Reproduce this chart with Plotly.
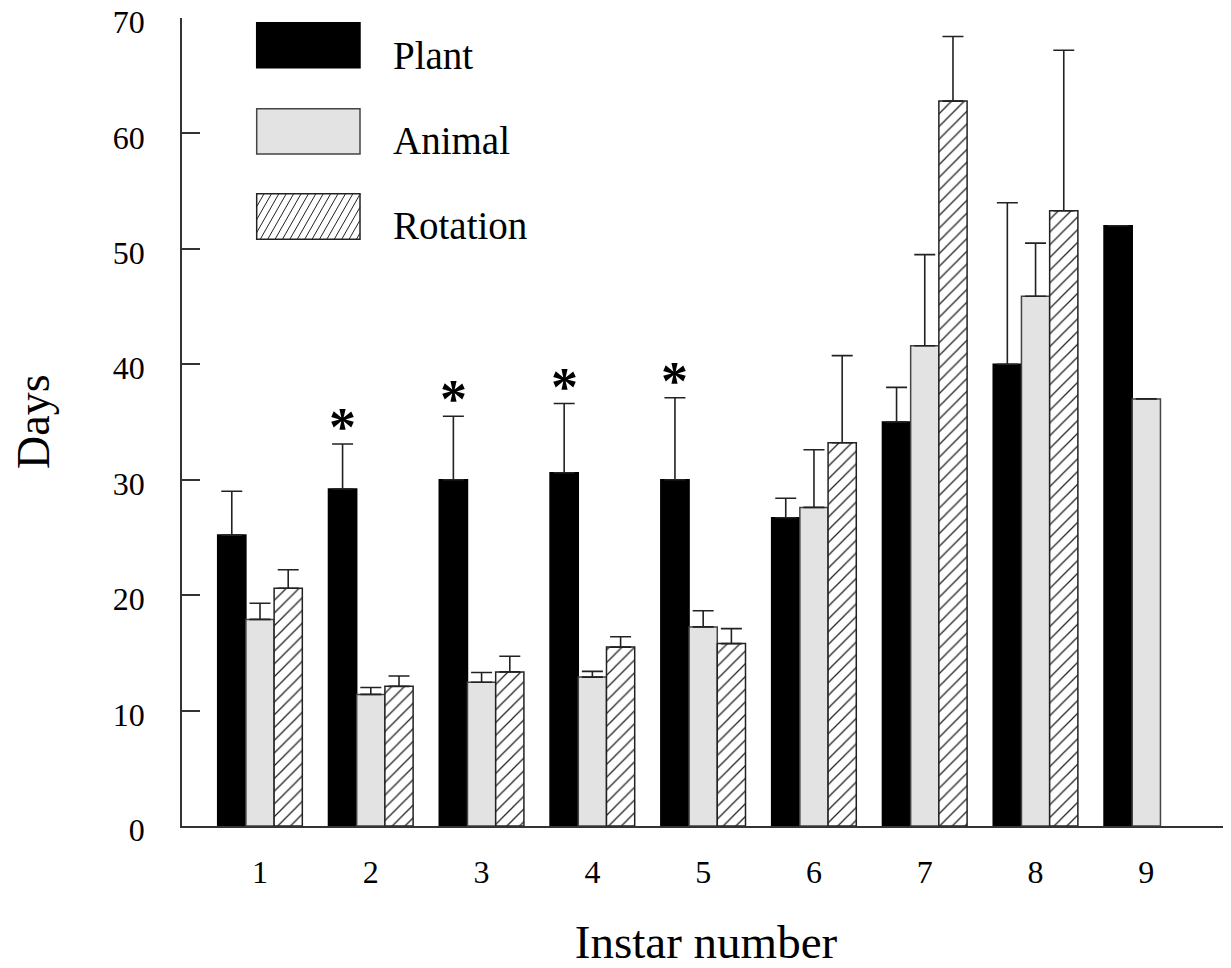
import plotly.graph_objects as go

# ---------------- data ----------------
instars = [1, 2, 3, 4, 5, 6, 7, 8, 9]
tick_labels = ["1", "2", "3", "4", "5", "6", "7", "8", "9"]

plant = [25.2, 29.2, 30.0, 30.6, 30.0, 26.7, 35.0, 40.0, 52.0]
plant_err = [3.8, 3.9, 5.5, 6.0, 7.1, 1.7, 3.0, 14.0, 0]

animal = [17.9, 11.4, 12.45, 12.9, 17.25, 27.6, 41.6, 45.9, 37.0]
animal_err = [1.4, 0.6, 0.85, 0.5, 1.4, 5.0, 7.9, 4.6, 0]

rotation = [20.6, 12.1, 13.35, 15.5, 15.8, 33.2, 62.8, 53.3, None]
rotation_err = [1.6, 0.9, 1.35, 0.9, 1.3, 7.55, 5.6, 13.9, None]

significant = [2, 3, 4, 5]  # instars marked with *

series_names = ["Plant", "Animal", "Rotation"]
x_title = "Instar number"
y_title = "Days"

# ---------------- layout constants ----------------
OFF = 8  # page body margin
W, H = 1223, 960
ML, MR, MT, MB = 174, 1, 10, 142
PW, PH = W - ML - MR, H - MT - MB
FONT = "Liberation Serif, Times New Roman, serif"
BARGAP = 0.236
ERR_STYLE = dict(type="data", symmetric=False, color="#222222", thickness=1.6, width=10.5)

fig = go.Figure()

fig.add_trace(go.Bar(
    x=instars, y=plant, name=series_names[0],
    marker=dict(color="black", line=dict(color="black", width=1.5)),
    error_y=dict(array=plant_err, arrayminus=[0] * len(plant), **ERR_STYLE),
))
fig.add_trace(go.Bar(
    x=instars, y=animal, name=series_names[1],
    marker=dict(color="#e3e3e3", line=dict(color="#444444", width=1.5)),
    error_y=dict(array=animal_err, arrayminus=[0] * len(animal), **ERR_STYLE),
))
fig.add_trace(go.Bar(
    x=instars, y=rotation, name=series_names[2],
    marker=dict(color="white", line=dict(color="#222222", width=1.5),
                pattern=dict(shape="/", fgcolor="#222222", bgcolor="white",
                             size=9, solidity=0.14, fillmode="replace")),
    error_y=dict(array=rotation_err, arrayminus=[0] * len(rotation), **ERR_STYLE),
))

# significance stars over Plant bars
bar_w = (1 - BARGAP) / 3
for inst in significant:
    i = instars.index(inst)
    fig.add_annotation(
        x=inst - bar_w, y=plant[i] + plant_err[i], xref="x", yref="y",
        text="<b>*</b>", showarrow=False, yanchor="middle", yshift=17,
        font=dict(family=FONT, size=54, color="black"),
    )

# custom legend (boxes + labels), positions given in page pixels
def px_x(px):
    return (px - OFF - ML) / PW

def px_y(py):
    return (MT + PH - (py - OFF)) / PH

legend_boxes = [
    (22.7, 67.7, dict(fillcolor="black", line=dict(color="black", width=1.5))),
    (108.7, 154.0, dict(fillcolor="#e3e3e3", line=dict(color="#444444", width=1.5))),
    (193.7, 239.3, dict(fillcolor="white", line=dict(color="#222222", width=1.5))),
]
label_y = [55, 140, 225]
for (top, bot, style), name, ly in zip(legend_boxes, series_names, label_y):
    fig.add_shape(type="rect", xref="paper", yref="paper",
                  x0=px_x(256.7), x1=px_x(360), y0=px_y(bot), y1=px_y(top), **style)
    fig.add_annotation(x=px_x(391), y=px_y(ly), xref="paper", yref="paper",
                       text=name, showarrow=False, xanchor="left", yanchor="middle",
                       font=dict(family=FONT, size=39, color="black"))

# hatch lines in the Rotation legend box
x0, x1, y0, y1 = 256.7, 360.0, 193.7, 239.3
step = 7.4
slope = 1.75
k = x0 - (y1 - y0) / slope
while k < x1:
    xa, ya = k, y1
    xb, yb = k + (y1 - y0) / slope, y0
    if xa < x0:
        ya = y1 - (x0 - xa) * slope
        xa = x0
    if xb > x1:
        yb = y0 + (xb - x1) * slope
        xb = x1
    if xb > xa:
        fig.add_shape(type="line", xref="paper", yref="paper",
                      x0=px_x(xa), y0=px_y(ya), x1=px_x(xb), y1=px_y(yb),
                      line=dict(color="#222222", width=1))
    k += step

# y-axis title (rotated annotation placed close to the left edge)
fig.add_annotation(x=px_x(33), y=px_y(422), xref="paper", yref="paper",
                   text=y_title, textangle=-90, showarrow=False,
                   xanchor="center", yanchor="middle",
                   font=dict(family=FONT, size=46, color="black"))

fig.update_layout(
    width=W, height=H,
    margin=dict(l=ML, r=MR, t=MT, b=MB, autoexpand=False),
    paper_bgcolor="white", plot_bgcolor="white",
    barmode="group", bargap=BARGAP, bargroupgap=0,
    showlegend=False,
    font=dict(family=FONT, color="black"),
)

fig.update_xaxes(
    range=[0.296, 9.755], tickvals=instars, ticktext=tick_labels,
    showgrid=False, zeroline=False, showline=True, linecolor="#333333", linewidth=1.5,
    ticks="", tickfont=dict(family=FONT, size=32, color="black"),
    ticklabelstandoff=17, automargin=False,
    title=dict(text=x_title, font=dict(family=FONT, size=47, color="black"), standoff=41),
)
fig.update_yaxes(
    range=[0, 70], tickvals=[0, 10, 20, 30, 40, 50, 60, 70],
    showgrid=False, zeroline=False, showline=True, linecolor="#333333", linewidth=1.5,
    ticks="inside", ticklen=18, tickwidth=1.5, tickcolor="#333333",
    tickfont=dict(family=FONT, size=32, color="black"),
    ticklabelstandoff=29, ticklabelshift=4, automargin=False, ticklabeloverflow="allow",
)

fig.write_html("out.html")
